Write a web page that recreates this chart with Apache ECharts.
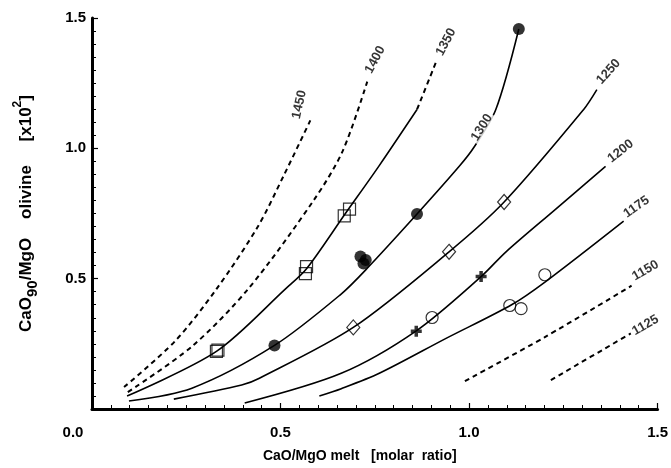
<!DOCTYPE html>
<html>
<head>
<meta charset="utf-8">
<script src="https://cdn.jsdelivr.net/npm/echarts@6/dist/echarts.min.js"></script>
<style>
  html,body{margin:0;padding:0;background:#fff;}
  #chart{width:671px;height:468px;}
</style>
</head>
<body>
<div id="chart"></div>
<script>
// isotherms (x = CaO/MgO melt, y = CaO/MgO olivine x10^2)
const iso1450 = [[0.085,0.084],[0.22,0.26],[0.33,0.46],[0.44,0.70],[0.51,0.90],[0.579,1.107]];
const iso1400 = [[0.095,0.065],[0.265,0.24],[0.415,0.462],[0.59,0.805],[0.665,0.99],[0.73,1.256]];
const iso1350 = [[0.093,0.05],[0.33,0.221],[0.514,0.462],[0.569,0.538],[0.672,0.75],[0.76,0.93],[0.862,1.149]];
const iso1350top = [[0.862,1.149],[0.915,1.34]];
const iso1300 = [[0.098,0.031],[0.265,0.08],[0.484,0.244],[0.66,0.44],[0.73,0.54],[0.862,0.748],[0.974,0.931],[1.013,1.004],[1.071,1.149],[1.132,1.458]];
const iso1250 = [[0.217,0.038],[0.397,0.092],[0.444,0.118],[0.693,0.313],[0.947,0.603],[1.093,0.794],[1.304,1.149],[1.339,1.225]];
const iso1200 = [[0.405,0.023],[0.661,0.137],[0.86,0.30],[1.032,0.508],[1.098,0.603],[1.23,0.767],[1.362,0.931]];
const iso1175 = [[0.603,0.05],[0.661,0.078],[0.762,0.137],[0.939,0.271],[1.114,0.401],[1.204,0.49],[1.41,0.721]];
const iso1150 = [[0.989,0.107],[1.2,0.275],[1.431,0.473]];
const iso1125 = [[1.217,0.111],[1.429,0.29]];

// measured points
const openSquares = [[0.330,0.221],[0.334,0.226],[0.569,0.546],[0.566,0.519],[0.683,0.767],[0.669,0.741]];
const filledCircles = [[0.484,0.244],[0.712,0.585],[0.726,0.572],[0.72,0.558],[0.862,0.748],[1.132,1.458]];
const openDiamonds = [[0.693,0.313],[0.947,0.603],[1.093,0.794]];
const crosses = [[0.860,0.298],[1.032,0.508]];
const openCircles = [[0.902,0.351],[1.108,0.397],[1.138,0.385],[1.201,0.515]];

// isotherm labels: [x, y, text]
const isoLabels = [[0.55,1.168,'1450'],[0.751,1.34,'1400'],[0.939,1.408,'1350'],[1.034,1.08,'1300'],
  [1.37,1.294,'1250'],[1.402,0.989,'1200'],[1.444,0.775,'1175'],[1.468,0.531,'1150'],[1.468,0.321,'1125']];
const labelAngle = {'1450':78,'1400':62,'1350':62,'1300':58,'1250':48,'1200':38,'1175':35,'1150':30,'1125':30};

const FONT = "'Liberation Sans', Arial, sans-serif";
const chart = echarts.init(document.getElementById('chart'));

function iso(data, dashed){
  return {type:'line', data, smooth:0.3, showSymbol:false, symbol:'none', silent:true, z:2,
    lineStyle:{color:'#000', width:dashed?2:1.6, type:dashed?[5,4]:'solid'}};
}
function marks(data, symbol, size, filled){
  return {type:'scatter', data, symbol, symbolSize:size, z:5,
    itemStyle:{color:filled?'#000':'rgba(0,0,0,0)', borderColor:'#000', borderWidth:filled?0:1.2}};
}

chart.setOption({
  animation:false,
  backgroundColor:'#fff',
  grid:{left:92, right:12, top:18, bottom:57, containLabel:false},
  xAxis:{type:'value', min:0, max:1.5, interval:0.5,
    name:'CaO/MgO melt   [molar  ratio]', nameLocation:'middle', nameGap:40,
    nameTextStyle:{color:'#000', fontFamily:FONT, fontSize:14, fontWeight:'bold', padding:[0,30,0,0]},
    axisLine:{lineStyle:{color:'#000', width:3}},
    axisTick:{inside:true, length:6, lineStyle:{color:'#000', width:1.2}},
    minorTick:{show:true, splitNumber:10, length:4, lineStyle:{color:'#000', width:1}},
    splitLine:{show:false},
    axisLabel:{color:'#000', fontFamily:FONT, fontSize:15, fontWeight:'bold', margin:16,
      formatter:v => v === 0 ? '{z|0.0}' : v.toFixed(1),
      rich:{z:{color:'#000', fontFamily:FONT, fontSize:15, fontWeight:'bold', padding:[0,38,0,0]}}}
  },
  yAxis:{type:'value', min:0, max:1.5, interval:0.5,
    name:'{a|CaO}{sub|90}{a|/MgO    olivine     [x10}{sup|2}{a|]}', nameLocation:'middle', nameGap:52, nameRotate:90,
    nameTextStyle:{color:'#000', fontFamily:FONT, fontSize:17, fontWeight:'bold',
      rich:{
        a:{fontFamily:FONT, fontSize:17, fontWeight:'bold', color:'#000', lineHeight:28, verticalAlign:'middle'},
        sub:{fontFamily:FONT, fontSize:15, fontWeight:'bold', color:'#000', lineHeight:28, verticalAlign:'bottom'},
        sup:{fontFamily:FONT, fontSize:12, fontWeight:'bold', color:'#000', lineHeight:28, verticalAlign:'top'}
      }},
    axisLine:{lineStyle:{color:'#000', width:3}},
    axisTick:{inside:true, length:6, lineStyle:{color:'#000', width:1.2}},
    minorTick:{show:true, splitNumber:10, length:4, lineStyle:{color:'#000', width:1}},
    splitLine:{show:false},
    axisLabel:{color:'#000', fontFamily:FONT, fontSize:15, fontWeight:'bold', margin:6,
      formatter:v => v === 0 ? '' : v.toFixed(1)}
  },
  series:[
    iso(iso1450, true), iso(iso1400, true), iso(iso1350, false), iso(iso1350top, true),
    iso(iso1300, false), iso(iso1250, false), iso(iso1200, false), iso(iso1175, false),
    iso(iso1150, true), iso(iso1125, true),
    marks(openSquares, 'rect', 12, false),
    marks(filledCircles, 'circle', 12, true),
    marks(openDiamonds, 'diamond', [13,15], false),
    marks(crosses, 'path://M3.4,0H6.6V3.4H10V6.6H6.6V10H3.4V6.6H0V3.4H3.4Z', 11, true),
    marks(openCircles, 'circle', 12, false),
    {type:'scatter', symbolSize:0, silent:true, clip:false, z:6,
      data: isoLabels.map(l => ({value:[l[0], l[1]], name:l[2],
        label:{rotate:labelAngle[l[2]]}})),
      label:{show:true, position:'inside', formatter:p => p.name, color:'#000',
        fontFamily:FONT, fontSize:13, fontWeight:'bold', backgroundColor:'#fff', padding:[0,2]}}
  ]
});
</script>
</body>
</html>
